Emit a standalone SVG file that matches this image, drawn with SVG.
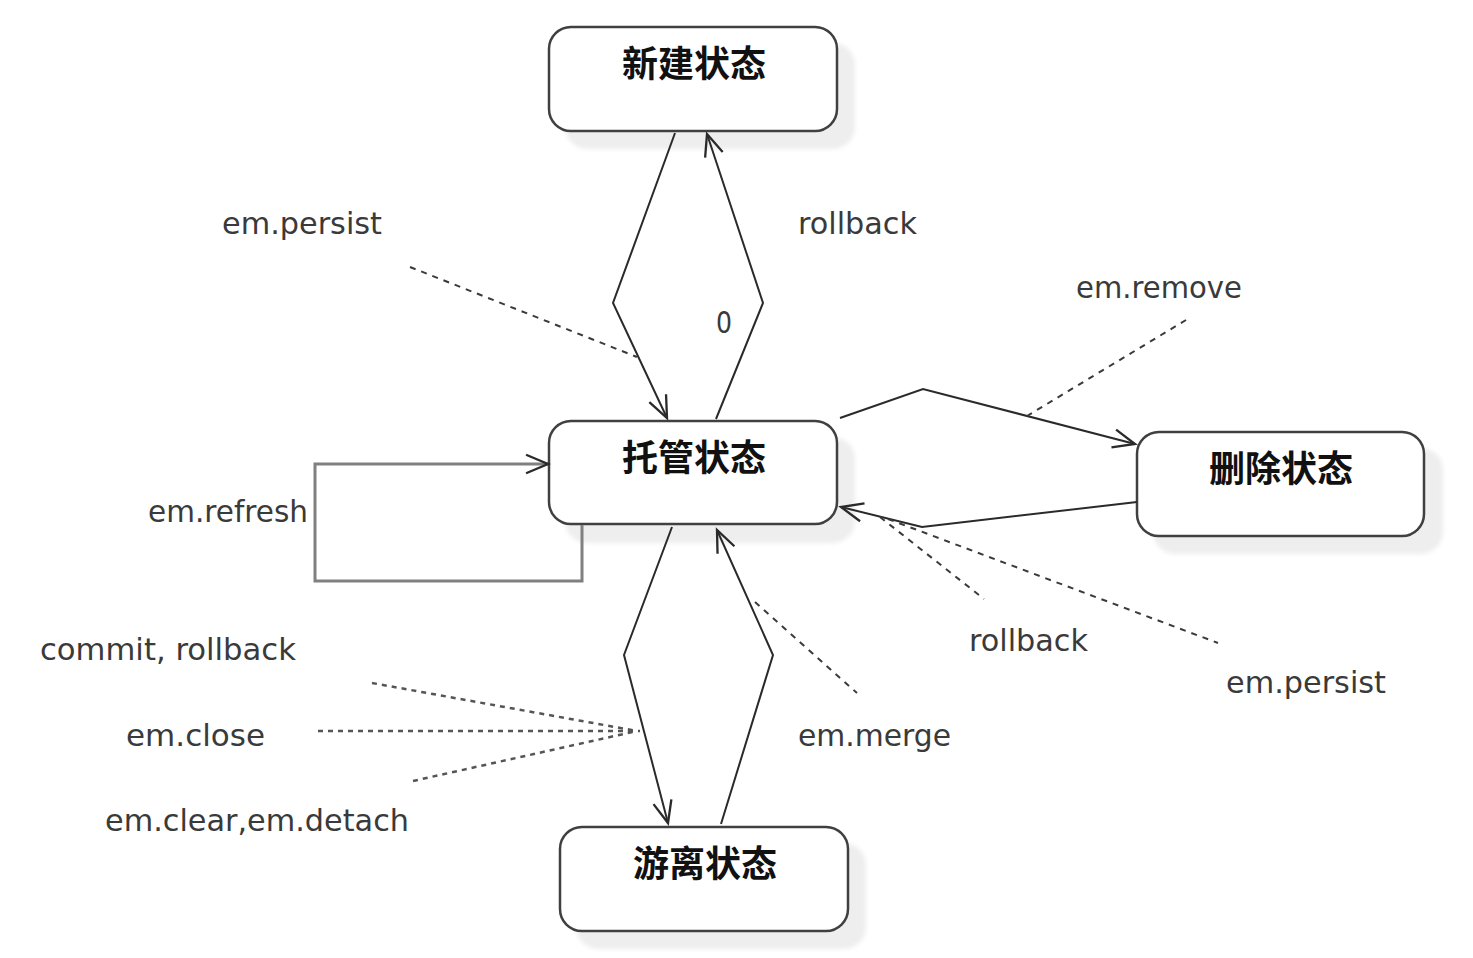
<svg xmlns="http://www.w3.org/2000/svg" width="1473" height="958" viewBox="0 0 1473 958">
<defs>
<marker id="arr" markerUnits="userSpaceOnUse" markerWidth="30" markerHeight="30" viewBox="-22 -12 26 24" refX="0" refY="0" orient="auto">
<path d="M-19,-8 L0,0 L-19,8" fill="none" stroke="#2a2a2a" stroke-width="2"/>
</marker>
<filter id="blur" x="-10%" y="-10%" width="120%" height="120%"><feGaussianBlur stdDeviation="2"/></filter>
</defs>
<style>
.shadow{fill:#eeeeee;filter:url(#blur)}
.box{fill:#ffffff;stroke:#404040;stroke-width:2.5}
.title{font-family:"Noto Sans CJK SC","Noto Sans CJK JP",sans-serif;font-size:36px;font-weight:bold;fill:#111;text-anchor:middle}
.lbl{font-family:"DejaVu Sans","Noto Sans",sans-serif;font-size:30px;fill:#3a3a3a}
.edge{fill:none;stroke:#2a2a2a;stroke-width:2}
.loop{fill:none;stroke:#808080;stroke-width:3}
.dash{fill:none;stroke:#3a3a3a;stroke-width:2;stroke-dasharray:6 6}
.dash2{fill:none;stroke:#555;stroke-width:2.5;stroke-dasharray:5 5}
</style>
<rect x="0" y="0" width="1473" height="958" fill="#ffffff"/>

<g id="node-new">
<rect class="shadow" x="565" y="43" width="290" height="106" rx="22"/>
<rect class="box" x="549" y="27" width="288" height="104" rx="22"/>
<text class="title" x="694" y="77">新建状态</text>
</g>
<g id="node-managed">
<rect class="shadow" x="565" y="437" width="290" height="106" rx="22"/>
<rect class="box" x="549" y="421" width="288" height="103" rx="22"/>
<text class="title" x="694" y="471">托管状态</text>
</g>
<g id="node-removed">
<rect class="shadow" x="1153" y="448" width="290" height="106" rx="22"/>
<rect class="box" x="1137" y="432" width="287" height="104" rx="22"/>
<text class="title" x="1281" y="482">删除状态</text>
</g>
<g id="node-detached">
<rect class="shadow" x="576" y="843" width="290" height="106" rx="22"/>
<rect class="box" x="560" y="827" width="288" height="104" rx="22"/>
<text class="title" x="705" y="877">游离状态</text>
</g>

<g id="connectors">
<polyline class="edge" points="675,133 613,303 667,418" marker-end="url(#arr)"/>
<polyline class="edge" points="716,419 763,303 707,134" marker-end="url(#arr)"/>
<polyline class="edge" points="840,418 923,389 1135,444" marker-end="url(#arr)"/>
<polyline class="edge" points="1137,502 922,527 841,507" marker-end="url(#arr)"/>
<polyline class="loop" points="582,525 582,581 315,581 315,464 548,464" marker-end="url(#arr)"/>
<polyline class="edge" points="672,527 624,655 668,823" marker-end="url(#arr)"/>
<polyline class="edge" points="721,824 773,655 717,530" marker-end="url(#arr)"/>

<line class="dash" x1="410" y1="267" x2="637" y2="357"/>
<line class="dash" x1="1186" y1="320" x2="1027" y2="416"/>
<line class="dash" x1="880" y1="517" x2="984" y2="599"/>
<line class="dash" x1="888" y1="519" x2="1218" y2="643"/>
<line class="dash" x1="755" y1="602" x2="857" y2="693"/>
<line class="dash2" x1="372" y1="683" x2="637" y2="731"/>
<line class="dash2" x1="318" y1="731" x2="640" y2="731"/>
<line class="dash2" x1="413" y1="781" x2="637" y2="731"/>
</g>

<g id="labels">
<text class="lbl" x="222" y="234" textLength="160" lengthAdjust="spacingAndGlyphs">em.persist</text>
<text class="lbl" x="798" y="234" textLength="119" lengthAdjust="spacingAndGlyphs">rollback</text>
<text class="lbl" x="716" y="333" textLength="16" lengthAdjust="spacingAndGlyphs">0</text>
<text class="lbl" x="1076" y="298" textLength="166" lengthAdjust="spacingAndGlyphs">em.remove</text>
<text class="lbl" x="148" y="522" textLength="160" lengthAdjust="spacingAndGlyphs">em.refresh</text>
<text class="lbl" x="969" y="651" textLength="119" lengthAdjust="spacingAndGlyphs">rollback</text>
<text class="lbl" x="1226" y="693" textLength="160" lengthAdjust="spacingAndGlyphs">em.persist</text>
<text class="lbl" x="40" y="660" textLength="256" lengthAdjust="spacingAndGlyphs">commit, rollback</text>
<text class="lbl" x="126" y="746" textLength="139" lengthAdjust="spacingAndGlyphs">em.close</text>
<text class="lbl" x="798" y="746" textLength="153" lengthAdjust="spacingAndGlyphs">em.merge</text>
<text class="lbl" x="105" y="831" textLength="304" lengthAdjust="spacingAndGlyphs">em.clear,em.detach</text>
</g>
</svg>
